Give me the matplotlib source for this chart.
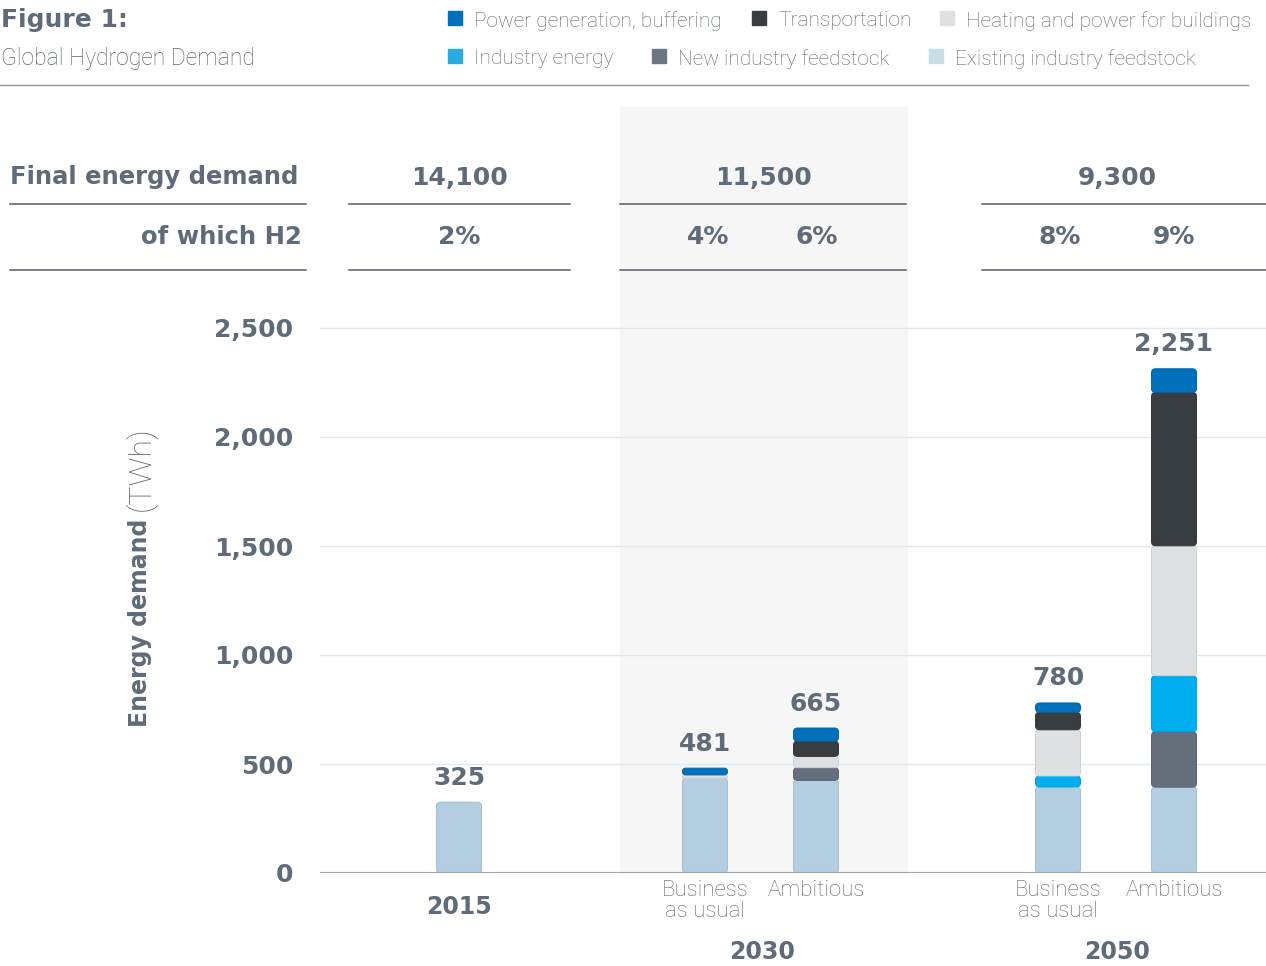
import matplotlib
matplotlib.use("Agg")
import matplotlib.pyplot as plt
from matplotlib.patches import Rectangle, FancyBboxPatch
from matplotlib.lines import Line2D

# data
scenarios = ['2015', '2030 Business as usual', '2030 Ambitious',
             '2050 Business as usual', '2050 Ambitious']
existing_feedstock = [325, 435, 425, 395, 394]
new_feedstock = [0, 0, 58, 0, 254]
industry_energy = [0, 0, 0, 50, 257]
heating_buildings = [0, 15, 52, 212, 596]
transportation = [0, 0, 70, 80, 703]
power_generation = [0, 31, 60, 43, 109]
totals = ['325', '481', '665', '780', '2,251']

years = ['2015', '2030', '2050']
final_demand = ['14,100', '11,500', '9,300']
h2_share = ['2%', '4%', '6%', '8%', '9%']
sub_labels = ['Business\nas usual', 'Ambitious', 'Business\nas usual', 'Ambitious']
y_ticks = [0, 500, 1000, 1500, 2000, 2500]

series = [
    ('Existing industry feedstock', existing_feedstock, '#B3CDE1', '#A3BDD2', '#C9DCE7'),
    ('New industry feedstock', new_feedstock, '#646F7B', '#58626D', '#6C7682'),
    ('Industry energy', industry_energy, '#00AEEF', '#009FDD', '#29ABE2'),
    ('Heating and power for buildings', heating_buildings, '#DFE0E2', '#CDCFD2', '#DFE0E2'),
    ('Transportation', transportation, '#383D42', '#30353A', '#383D42'),
    ('Power generation, buffering', power_generation, '#0070BA', '#0065A8', '#0070BA'),
]

W, H = 1266, 966
TXT = '#5F6B78'
LIGHT = '#5E6771'
BOLD = 'DejaVu Sans'
THIN = 'Roboto'
PX_Y = 2500 / 545  # TWh per pixel


def fx(x):
    return x / W


def fy(y):
    return 1 - y / H


fig = plt.figure(figsize=(W / 100, H / 100), dpi=100)

# grey band behind 2030
fig.patches.append(Rectangle((fx(620), fy(873)), fx(907) - fx(620), fy(107) - fy(873),
                             transform=fig.transFigure, color='#F6F6F6', zorder=-1))

ax = fig.add_axes([fx(320), fy(873), fx(1266) - fx(320), fy(300) - fy(873)])
ax.patch.set_alpha(0)
bar_x = [459, 705, 816, 1058, 1174]
ax.set_xlim(320, 1266)
ax.set_ylim(0, (873 - 300) * PX_Y)

bottom = [0] * len(scenarios)
for name, vals, col, edge, _ in series:
    bars = ax.bar(bar_x, vals, width=45, bottom=bottom, color=col, zorder=3)
    # swap each segment for a box with rounded corners
    for r in bars:
        h = r.get_height()
        if h <= 0:
            r.remove()
            continue
        rad = min(4, h / PX_Y / 2.2)
        box = FancyBboxPatch((r.get_x(), r.get_y()), r.get_width(), h,
                             boxstyle=f'round,pad=0,rounding_size={rad}',
                             mutation_aspect=PX_Y, facecolor=col, edgecolor=edge,
                             linewidth=0.7, zorder=3)
        ax.add_patch(box)
        r.remove()
    bottom = [b + v for b, v in zip(bottom, vals)]

for x, top, lab in zip(bar_x, bottom, totals):
    ax.annotate(lab, (x, top), xytext=(0, 9), textcoords='offset points',
                ha='center', va='bottom', fontsize=18, fontweight='bold',
                family=BOLD, color=TXT)

ax.set_yticks(y_ticks)
ax.set_yticklabels([f'{v:,}' for v in y_ticks], fontsize=18, fontweight='bold',
                   family=BOLD, color=TXT)
ax.tick_params(axis='y', length=0, pad=19)
ax.set_xticks([])
ax.grid(axis='y', color='#DDE9F2', linewidth=1, zorder=0)
ax.axhline(0, color='#A0A5AA', linewidth=1.5, zorder=4)
for s in ax.spines.values():
    s.set_visible(False)

# y axis title
fig.text(fx(140), fy(727), 'Energy demand', rotation=90, ha='center', va='bottom',
         fontsize=17, fontweight='bold', family=BOLD, color=TXT)
fig.text(fx(141), fy(511), '(TWh)', rotation=90, ha='center', va='bottom',
         fontsize=23, fontweight='light', family=THIN, color=LIGHT)

# x labels
for x, lab in zip(bar_x[1:], sub_labels):
    fig.text(fx(x), fy(880), lab, ha='center', va='top', fontsize=16,
             fontweight='light', family=THIN, color=LIGHT, linespacing=1.0)
for x, y, lab in zip([459, 762, 1117], [907, 952, 952], years):
    fig.text(fx(x), fy(y), lab, ha='center', va='center', fontsize=17,
             fontweight='bold', family=BOLD, color=TXT)

# table above the chart
fig.text(fx(10), fy(177), 'Final energy demand', ha='left', va='center',
         fontsize=17.5, fontweight='bold', family=BOLD, color=TXT)
fig.text(fx(302), fy(237), 'of which H2', ha='right', va='center',
         fontsize=17.5, fontweight='bold', family=BOLD, color=TXT)
for x, lab in zip([459, 763, 1117], final_demand):
    fig.text(fx(x), fy(178), lab, ha='center', va='center', fontsize=18,
             fontweight='bold', family=BOLD, color=TXT)
for x, lab in zip([459, 708, 817, 1060, 1174], h2_share):
    fig.text(fx(x), fy(237), lab, ha='center', va='center', fontsize=18,
             fontweight='bold', family=BOLD, color=TXT)
for y in [204, 270]:
    for x0, x1 in [(10, 306), (349, 570), (620, 906), (982, 1266)]:
        fig.add_artist(Line2D([fx(x0), fx(x1)], [fy(y), fy(y)], color='#555D66',
                              linewidth=1.1, transform=fig.transFigure))

# header
fig.text(fx(1), fy(20), 'Figure 1:', ha='left', va='center', fontsize=18,
         fontweight='bold', family=BOLD, color=TXT)
fig.text(fx(1), fy(58), 'Global Hydrogen Demand', ha='left', va='center',
         fontsize=16.5, fontweight='light', family=THIN, color=LIGHT)
fig.add_artist(Line2D([0, fx(1248)], [fy(85), fy(85)], color='#8C939A',
                      linewidth=1, transform=fig.transFigure))

# legend
legend_pos = {
    'Power generation, buffering': (448, 18),
    'Transportation': (752, 18),
    'Heating and power for buildings': (940, 18),
    'Industry energy': (448, 56),
    'New industry feedstock': (652, 56),
    'Existing industry feedstock': (929, 56),
}
for name, _, _, _, lcol in series:
    x, y = legend_pos[name]
    fig.patches.append(Rectangle((fx(x), fy(y + 7)), fx(14), 14 / H,
                                 transform=fig.transFigure, color=lcol))
    fig.text(fx(x + 26), fy(y + 3), name, ha='left', va='center', fontsize=15,
             fontweight='light', family=THIN, color=LIGHT)

fig.savefig('out.png', dpi=100)
